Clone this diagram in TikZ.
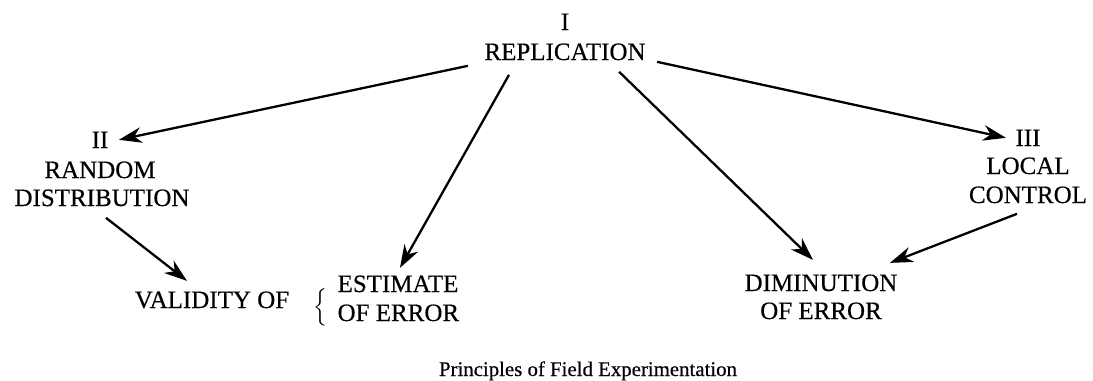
\documentclass[tikz,border=0pt]{standalone}
\usepackage{fontspec}
\setmainfont{Liberation Serif}
\newfontfamily\printfont{Liberation Serif}[FakeBold=0.4]
\usetikzlibrary{arrows.meta}

\begin{document}
\begin{tikzpicture}[x=0.48pt, y=-0.48pt,
    lbl/.style={font=\printfont\fontsize{12}{14}\selectfont, inner sep=2pt, anchor=base},
    arr/.style={line width=1.1pt, -{Stealth[length=11pt, width=7.5pt, inset=3.5pt]}}]

% 1. Frame
\useasboundingbox (0,0) rectangle (1093,380);

% 2. Replication at the top
\node[lbl] (num1) at (565,30) {I};
\node[lbl] (repl) at (565,60) {REPLICATION};

% 3. Random distribution (left)
\node[lbl] (num2) at (100,148) {II};
\node[lbl] (random) at (100,178) {RANDOM};
\node[lbl] (distr) at (102,206) {DISTRIBUTION};

% 4. Local control (right)
\node[lbl] (num3) at (1028,146) {III};
\node[lbl] (local) at (1028,174) {LOCAL};
\node[lbl] (control) at (1028,203) {CONTROL};

% 5. Validity of the estimate of error
\node[lbl] (valid) at (212,308) {VALIDITY OF};
\node[font=\fontsize{10}{12}\selectfont, inner sep=0pt] (brace) at (320,307) {$\Big\{$};
\node[lbl, anchor=base west] (est) at (333,292) {ESTIMATE};
\node[lbl, anchor=base west] (errA) at (333,321) {OF ERROR};

% 6. Diminution of error
\node[lbl] (dimin) at (821,291) {DIMINUTION};
\node[lbl] (errB) at (821,319) {OF ERROR};

% 7. Arrows
\draw[arr] ([shift={(-12,1)}]repl.south west) -- ([shift={(6,0)}]num2.east);
\draw[arr] ([shift={(-56,10)}]repl.south) -- ([shift={(2,-3)}]est.north);
\draw[arr] ([shift={(-31,7)}]repl.south east) -- ([shift={(-8,-10)}]dimin.north);
\draw[arr] ([shift={(7,-3)}]repl.south east) -- ([shift={(-5,0)}]num3.west);
\draw[arr] ([shift={(4,7)}]distr.south) -- ([shift={(-25,-6)}]valid.north);
\draw[arr] ([shift={(-11,6)}]control.south) -- ([shift={(-12,-7)}]dimin.north east);

% 8. Caption
\node[lbl, font=\printfont\fontsize{10}{12}\selectfont] (caption) at (588,376) {Principles of Field Experimentation};

\end{tikzpicture}
\end{document}
